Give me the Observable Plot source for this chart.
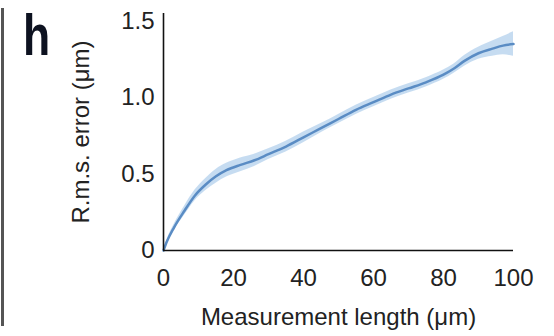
<!DOCTYPE html>
<html>
<head>
<meta charset="utf-8">
<script src="https://cdn.jsdelivr.net/npm/d3@7"></script>
<script src="https://cdn.jsdelivr.net/npm/@observablehq/plot@0.6"></script>
<style>
  html, body { margin: 0; padding: 0; background: #fff; }
  #wrap { position: relative; width: 554px; height: 336px; overflow: hidden; font-family: "Liberation Sans", Arial, sans-serif; }
  #panel { position: absolute; left: 23px; top: 7px; font-size: 57px; font-weight: bold; color: #0d1220; line-height: 1; transform: scaleX(0.78); transform-origin: left top; }
  #edge { position: absolute; left: 1px; top: 8px; width: 3px; height: 318px; background: #555; }
</style>
</head>
<body>
<div id="wrap">
  <div id="chart"></div>
  <div id="edge"></div>
  <div id="panel">h</div>
</div>
<script>
const lengths = [0, 1, 3, 6, 9, 12, 15, 18, 22, 26, 30, 35, 40, 45, 50, 55, 60, 65, 70, 75, 80, 83, 86, 90, 94, 97, 100];
const rmsMean = [0, 0.06, 0.15, 0.26, 0.36, 0.43, 0.485, 0.525, 0.56, 0.59, 0.63, 0.68, 0.74, 0.80, 0.86, 0.92, 0.97, 1.02, 1.06, 1.10, 1.15, 1.19, 1.24, 1.29, 1.32, 1.34, 1.35];
const rmsLow  = [0, 0.05, 0.13, 0.23, 0.325, 0.39, 0.44, 0.48, 0.515, 0.55, 0.595, 0.645, 0.705, 0.77, 0.83, 0.89, 0.94, 0.99, 1.03, 1.07, 1.12, 1.16, 1.205, 1.25, 1.27, 1.28, 1.27];
const rmsHigh = [0, 0.07, 0.17, 0.29, 0.395, 0.47, 0.53, 0.57, 0.605, 0.63, 0.665, 0.715, 0.775, 0.83, 0.89, 0.95, 1.00, 1.05, 1.09, 1.13, 1.18, 1.22, 1.275, 1.33, 1.37, 1.40, 1.43];
const xTicks = [0, 20, 40, 60, 80, 100];
const yTicks = [0, 0.5, 1.0, 1.5];
const yTickLabels = ["0", "0.5", "1.0", "1.5"];

const data = lengths.map((x, i) => ({x, y: rmsMean[i], lo: rmsLow[i], hi: rmsHigh[i]}));

const chart = Plot.plot({
  width: 554,
  height: 336,
  marginLeft: 163,
  marginRight: 41,
  marginTop: 13,
  marginBottom: 86,
  style: { fontFamily: "Liberation Sans, Arial, sans-serif", fontSize: "24px", color: "#222", background: "transparent" },
  x: { domain: [0, 100] },
  y: { domain: [0, 1.55] },
  marks: [
    Plot.areaY(data, { x: "x", y1: "lo", y2: "hi", fill: "#bcd6ee", fillOpacity: 0.85, curve: "monotone-x" }),
    Plot.line(data, { x: "x", y: "y", stroke: "#5a8cc4", strokeWidth: 2.5, curve: "monotone-x" }),
    Plot.ruleX([0], { stroke: "#111", strokeWidth: 1.6 }),
    Plot.ruleY([0], { stroke: "#111", strokeWidth: 1.6 }),
    Plot.axisX({ ticks: xTicks, tickSize: 0, tickPadding: 18, fontSize: 24, label: "Measurement length (μm)", labelAnchor: "center", labelOffset: 74, labelArrow: "none" }),
    Plot.axisY({ ticks: yTicks, tickFormat: (d) => yTickLabels[yTicks.indexOf(d)], tickSize: 0, tickPadding: 9, fontSize: 24, label: "R.m.s. error (μm)", labelAnchor: "center", labelOffset: 92, labelArrow: "none" })
  ]
});
document.getElementById("chart").appendChild(chart);
</script>
</body>
</html>
